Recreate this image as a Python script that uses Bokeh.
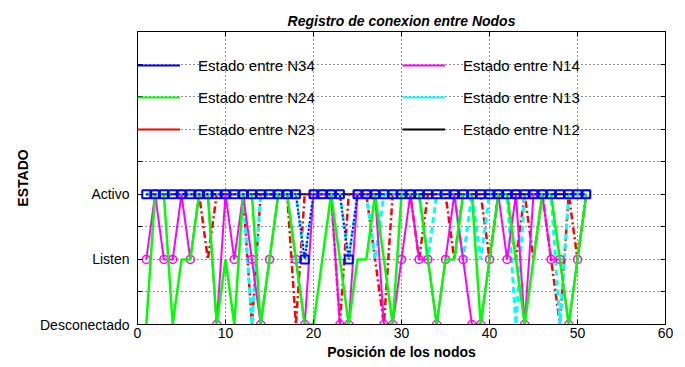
from bokeh.plotting import figure
from bokeh.models import FixedTicker, LinearAxis, Legend, LegendItem, Range1d
from bokeh.embed import file_html
from bokeh.resources import INLINE

# ---- data ----
x = list(range(1, 52))
n34 = [2] * 18 + [1] + [2] * 4 + [1] + [2] * 27
n24 = [0, 2, 2, 0, 1, 1, 2, 2, 0, 1,
       0, 2, 2, 0, 1, 2, 2, 1, 0, 0,
       1, 2, 1, 0, 1, 1, 2, 1, 0, 2,
       2, 2, 1, 0, 1, 1, 2, 2, 0, 1,
       2, 2, 1, 0, 1, 2, 2, 1, 0, 1, 2]
n23 = [2, 2, 2, 2, 2, 2, 2, 1, 2, 2,
       2, 2, 0, 2, 2, 2, 2, 0, 2, 2,
       2, 2, 0, 2, 2, 2, 1, 0, 2, 2,
       2, 1, 2, 2, 2, 1, 2, 2, 2, 1,
       2, 2, 1, 2, 1, 2, 1, 0, 2, 1, 2]
n14 = [1, 2, 1, 1, 2, 1, 2, 2, 0, 2,
       1, 2, 1, 0, 1, 2, 2, 1, 0, 2,
       2, 2, 0, 0, 2, 2, 2, 0, 0, 1,
       2, 1, 1, 0, 1, 2, 1, 0, 0, 1,
       2, 1, 2, 0, 2, 2, 1, 1, 0, 1, 2]
n13 = [2, 2, 2, 2, 2, 2, 2, 2, 2, 2,
       2, 2, 0, 2, 2, 2, 2, 2, 1, 2,
       2, 2, 2, 1, 2, 2, 1, 2, 2, 2,
       2, 2, 1, 2, 2, 2, 1, 2, 1, 2,
       2, 2, 0, 2, 2, 2, 2, 0, 2, 2, 2]
n12 = [2] * 51

series_names = ["Estado entre N34", "Estado entre N24", "Estado entre N23",
                "Estado entre N14", "Estado entre N13", "Estado entre N12"]
xticks = [0, 10, 20, 30, 40, 50, 60]
yticks_labelled = [0, 1, 2]
yticks_all = [0, 0.5, 1, 1.5, 2, 2.5, 3, 3.5, 4, 4.5]
ytick_labels = {0: "Desconectado", 1: "Listen", 2: "Activo"}
title_text = "Registro de conexion entre Nodos"
xlabel_text = "Posición de los nodos"
ylabel_text = "ESTADO"

FONT = "Liberation Sans"

p = figure(width=677, height=362, output_backend="svg", toolbar_location=None,
           x_range=Range1d(0, 60), y_range=Range1d(0, 4.5),
           min_border_left=137, min_border_right=12, min_border_top=31,
           min_border_bottom=36, title=title_text)
p.background_fill_color = "white"
p.border_fill_color = "white"
p.outline_line_color = "black"
p.outline_line_width = 1

p.title.align = "center"
p.title.text_font = FONT
p.title.text_font_size = "14px"
p.title.text_font_style = "bold italic"
p.title.text_color = "black"
p.title.standoff = 6

# axes
for ax in (p.xaxis[0], p.yaxis[0]):
    ax.major_tick_in = 5
    ax.major_tick_out = 0
    ax.minor_tick_in = 5
    ax.minor_tick_out = 0
    ax.axis_line_color = "black"
    ax.major_tick_line_color = "black"
    ax.minor_tick_line_color = "black"
    ax.major_label_text_font = FONT
    ax.major_label_text_font_size = "14px"
    ax.major_label_text_color = "black"
    ax.axis_label_text_font = FONT
    ax.axis_label_text_font_size = "14px"
    ax.axis_label_text_font_style = "bold"
    ax.axis_label_text_color = "black"
p.xaxis[0].ticker = FixedTicker(ticks=xticks, minor_ticks=[])
p.yaxis[0].ticker = FixedTicker(ticks=yticks_labelled,
                                minor_ticks=[t for t in yticks_all if t not in yticks_labelled])
p.xaxis[0].major_label_standoff = 3
p.yaxis[0].major_label_standoff = 8
p.yaxis[0].major_label_overrides = ytick_labels
p.xaxis[0].axis_label = xlabel_text
p.yaxis[0].axis_label = ylabel_text
p.xaxis[0].axis_label_standoff = 3
p.yaxis[0].axis_label_standoff = 6

# tick marks on the top and right box edges (no labels)
for side, tick in (("right", yticks_all), ("above", xticks)):
    ax = LinearAxis(ticker=FixedTicker(ticks=[], minor_ticks=tick))
    ax.major_tick_in = 0
    ax.major_tick_out = 0
    ax.minor_tick_in = 5
    ax.minor_tick_out = 0
    ax.minor_tick_line_color = "black"
    ax.major_label_standoff = 0
    ax.axis_line_color = "black"
    p.add_layout(ax, side)

p.xgrid.ticker = FixedTicker(ticks=xticks)
p.ygrid.ticker = FixedTicker(ticks=yticks_all)
for g in (p.xgrid[0], p.ygrid[0]):
    g.grid_line_color = "black"
    g.grid_line_dash = "1 3"
    g.grid_line_width = 1
    g.grid_line_alpha = 0.85

# data glyphs
p.line(x, n12, line_color="black", line_width=2)
p.line(x, n23, line_color="red", line_width=2.5, line_dash="7 3 2 3")
p.line(x, n13, line_color="cyan", line_width=3, line_dash="6 4")
p.line(x, n14, line_color="magenta", line_width=2)
p.scatter(x, n14, marker="circle", size=8, fill_color=None,
          line_color="magenta", line_width=1.5)
p.line(x, n24, line_color="#00ff00", line_width=2.5)
p.line(x, n34, line_color="blue", line_width=2, line_dash="2 2")
p.scatter(x, n34, marker="square", size=8, fill_color=None,
          line_color="blue", line_width=2)

# legend proxies (solid lines, placed outside the visible range)
colors = ["blue", "#00ff00", "red", "magenta", "cyan", "black"]
proxies = [p.line(x=[-20, -19], y=[-20, -20], line_color=c, line_width=2) for c in colors]
items = [LegendItem(label=n, renderers=[r]) for n, r in zip(series_names, proxies)]

for loc, its in (((0, 185), items[:3]), ((265, 185), items[3:])):
    leg = Legend(items=its, location=loc, padding=0, margin=0, spacing=12,
                 glyph_width=43, glyph_height=20, label_height=20,
                 label_standoff=18, background_fill_alpha=0,
                 border_line_alpha=0, label_text_font=FONT,
                 label_text_font_size="15px", label_text_color="black")
    p.add_layout(leg)

open("out.html", "w").write(file_html(p, INLINE))
